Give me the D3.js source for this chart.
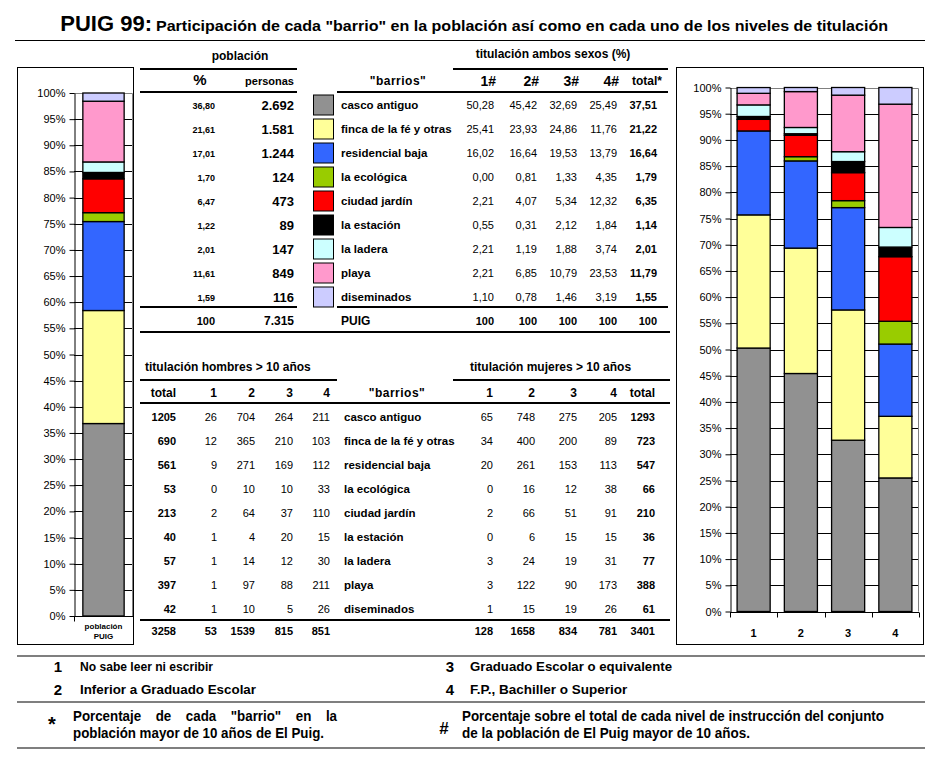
<!DOCTYPE html>
<html><head><meta charset="utf-8">
<script src="https://cdn.jsdelivr.net/npm/d3@7"></script>
<style>
body{margin:0;background:#fff}
svg{display:block}
text{font-family:"Liberation Sans",Arial,Helvetica,sans-serif;fill:#000}
</style></head><body>
<script>
// ---------------- DATA ----------------
const barrios = ["casco antiguo","finca de la fé y otras","residencial baja","la ecológica","ciudad jardín","la estación","la ladera","playa","diseminados"];
const colors  = ["#919191","#ffff99","#3366ff","#99cc00","#ff0000","#000000","#ccffff","#ff99cc","#ccccff"];
const popPct   = [36.80,21.61,17.01,1.70,6.47,1.22,2.01,11.61,1.59];
const personas = [2692,1581,1244,124,473,89,147,849,116];
const popTotal = [100,7315];
const levels   = ["1","2","3","4"];
const tit1 = [50.28,25.41,16.02,0.00,2.21,0.55,2.21,2.21,1.10];
const tit2 = [45.42,23.93,16.64,0.81,4.07,0.31,1.19,6.85,0.78];
const tit3 = [32.69,24.86,19.53,1.33,5.34,2.12,1.88,10.79,1.46];
const tit4 = [25.49,11.76,13.79,4.35,12.32,1.84,3.74,23.53,3.19];
const titTotal = [37.51,21.22,16.64,1.79,6.35,1.14,2.01,11.79,1.55];
const menTotal = [1205,690,561,53,213,40,57,397,42];
const men1 = [26,12,9,0,2,1,1,1,1];
const men2 = [704,365,271,10,64,4,14,97,10];
const men3 = [264,210,169,10,37,20,12,88,5];
const men4 = [211,103,112,33,110,15,30,211,26];
const menSums = [3258,53,1539,815,851];
const wom1 = [65,34,20,0,2,0,3,3,1];
const wom2 = [748,400,261,16,66,6,24,122,15];
const wom3 = [275,200,153,12,51,15,19,90,19];
const wom4 = [205,89,113,38,91,15,31,173,26];
const womTotal = [1293,723,547,66,210,36,77,388,61];
const womSums = [128,1658,834,781,3401];
const yTicks = d3.range(0,101,5);
const legendLevels = [["1","No sabe leer ni escribir"],["2","Inferior a Graduado Escolar"],["3","Graduado Escolar o equivalente"],["4","F.P., Bachiller o Superior"]];

// ---------------- HELPERS ----------------
const svg = d3.select("body").append("svg").attr("width",942).attr("height",772);
svg.append("rect").attr("width",942).attr("height",772).attr("fill","#fff");
const dec = d=>d3.format(".2f")(d).replace(".",",");
const thou = d=>d3.format(",")(d).replace(/,/g,".");
function T(x,y,s,o={}){
  const t=svg.append("text").attr("x",x).attr("y",y).text(s)
    .attr("font-size",o.size||11).attr("font-weight",o.weight||"normal")
    .attr("text-anchor",o.anchor||"start");
  if(o.len) t.attr("textLength",o.len).attr("lengthAdjust",o.adj||"spacingAndGlyphs");
  if(o.ls) t.attr("letter-spacing",o.ls);
  return t;
}
function fit(x,y,s,width,size){
  const t=T(x,y,s,{size:size,weight:"bold"});
  const w=t.node().getComputedTextLength();
  if(w>width) t.attr("textLength",width).attr("lengthAdjust","spacingAndGlyphs");
  return Math.max(1,w/width);
}
function justify(x,y,s,width,size,factor){
  const words=s.split(" ");
  const nodes=words.map(w=>T(0,y,w,{size:size,weight:"bold"}));
  const ws=nodes.map(n=>n.node().getComputedTextLength()/factor);
  const gap=(width-d3.sum(ws))/(words.length-1);
  let cx=x;
  nodes.forEach((n,i)=>{n.attr("x",cx).attr("textLength",ws[i]).attr("lengthAdjust","spacingAndGlyphs"); cx+=ws[i]+gap;});
}
function L(x1,y1,x2,y2,w=1,c="#000"){
  svg.append("line").attr("x1",x1).attr("y1",y1).attr("x2",x2).attr("y2",y2)
    .attr("stroke",c).attr("stroke-width",w);
}

// ---------------- TITLE ----------------
T(152,31,"PUIG 99:",{size:22,weight:"bold",anchor:"end"});
T(156,31,"Participación de cada \"barrio\" en la población  así como en cada uno  de los niveles de titulación",{size:15.5,weight:"bold",len:732});
L(15,40.5,925,40.5,1.2);

// ---------------- STACKED CHARTS ----------------
function stackChart(cfg){
  const {cats,series,x0,x1,y0,y1,labelFn} = cfg;
  const x = d3.scaleBand().domain(cats).range([x0,x1]).paddingInner(0.3).paddingOuter(0.15);
  const y = d3.scaleLinear().domain([0,100]).range([y0,y1]);
  const g = svg.append("g");
  g.selectAll("line.grid").data(yTicks.filter(v=>v>0&&v<100)).join("line")
    .attr("x1",x0).attr("x2",x1).attr("y1",d=>Math.round(y(d))+0.5).attr("y2",d=>Math.round(y(d))+0.5)
    .attr("stroke","#000").attr("stroke-width",1);
  g.append("path").attr("d",`M${x0},${Math.round(y1)+0.5}H${x1-0.5}V${y0}`).attr("fill","none").attr("stroke","#808080");
  const data = cats.map((c,ci)=>{const o={cat:c}; barrios.forEach((b,bi)=>o[b]=series[ci][bi]); return o;});
  const stacked = d3.stack().keys(barrios)(data);
  g.selectAll("g.s").data(stacked).join("g").attr("fill",(d,i)=>colors[i])
    .selectAll("rect").data(d=>d).join("rect")
    .attr("x",d=>x(d.data.cat)).attr("width",x.bandwidth())
    .attr("y",d=>y(Math.min(d[1],100))).attr("height",d=>Math.max(0,y(d[0])-y(Math.min(d[1],100))))
    .attr("stroke","#000").attr("stroke-width",1.3);
  const ya = g.append("g").attr("transform",`translate(${x0+0.5},0)`)
    .call(d3.axisLeft(y).tickValues(yTicks).tickFormat(d=>d+"%").tickSize(5).tickSizeOuter(0));
  ya.select(".domain").attr("stroke","#000");
  ya.selectAll(".tick text").attr("font-size",11).attr("font-family","'Liberation Sans',Arial,sans-serif").attr("dx",-1);
  const xa = g.append("g").attr("transform",`translate(0,${Math.round(y0)+0.5})`);
  xa.append("line").attr("x1",x0).attr("x2",x1).attr("stroke","#000");
  const edges = cats.map(c=>x(c)-x.step()*0.15).concat([x1]);
  xa.selectAll("line.tk").data(edges).join("line").attr("x1",d=>Math.round(d)+0.5).attr("x2",d=>Math.round(d)+0.5).attr("y1",0).attr("y2",5).attr("stroke","#000");
  labelFn(x);
}

svg.append("rect").attr("x",17.5).attr("y",67.5).attr("width",116).attr("height",577).attr("fill","#fff").attr("stroke","#000");
stackChart({cats:["población PUIG"],series:[popPct],x0:74,x1:133,y0:616,y1:93,
  labelFn:x=>{
    const cx=x("población PUIG")+x.bandwidth()/2;
    T(cx,629,"población",{size:8,weight:"bold",anchor:"middle"});
    T(cx,639,"PUIG",{size:8,weight:"bold",anchor:"middle"});
  }});

svg.append("rect").attr("x",676.5).attr("y",67.5).attr("width",247).attr("height",577).attr("fill","#fff").attr("stroke","#000");
stackChart({cats:levels,series:[tit1,tit2,tit3,tit4],x0:730,x1:919,y0:611.5,y1:87.5,
  labelFn:x=>{ levels.forEach(l=>T(x(l)+x.bandwidth()/2,637,l,{size:11,weight:"bold",anchor:"middle"})); }});

// ---------------- TOP TABLE ----------------
T(240,60,"población",{size:12,weight:"bold",anchor:"middle"});
T(553,58,"titulación ambos sexos (%)",{size:12,weight:"bold",anchor:"middle"});
L(140,69,297,69,2); L(453,69,668,69,2);
const hy=85;
T(200,hy,"%",{size:15,weight:"bold",anchor:"middle"});
T(294,hy,"personas",{size:11,weight:"bold",anchor:"end"});
T(398,hy,"\"barrios\"",{size:12,weight:"bold",anchor:"middle",ls:0.5});
const tCols=[494,537,577,617];
["1#","2#","3#","4#"].forEach((h,i)=>T(tCols[i]+2,hy+1,h,{size:14,weight:"bold",anchor:"end"}));
T(662,hy,"total*",{size:12,weight:"bold",anchor:"end"});
L(140,92,297,92,2); L(337,92,668,92,2);
const titCols=[tit1,tit2,tit3,tit4];
barrios.forEach((b,i)=>{
  const cy=105+24*i, by=cy+4;
  T(215,by,dec(popPct[i]),{size:9,weight:"bold",anchor:"end"});
  T(294,by+1,thou(personas[i]),{size:13,weight:"bold",anchor:"end"});
  svg.append("rect").attr("x",313.5).attr("y",cy-10).attr("width",20).attr("height",20).attr("fill",colors[i]).attr("stroke","#000");
  T(341,by,b,{size:11.5,weight:"bold"});
  titCols.forEach((col,j)=>T(tCols[j],by,dec(col[i]),{size:11,anchor:"end"}));
  T(657,by,dec(titTotal[i]),{size:11,weight:"bold",anchor:"end"});
});
L(140,307,297,307,2); L(337,307,668,307,2);
T(215,325,String(popTotal[0]),{size:11,weight:"bold",anchor:"end"});
T(294,325,thou(popTotal[1]),{size:12,weight:"bold",anchor:"end"});
T(341,325,"PUIG",{size:12,weight:"bold"});
tCols.forEach(c=>T(c,325,"100",{size:11,weight:"bold",anchor:"end"}));
T(657,325,"100",{size:11,weight:"bold",anchor:"end"});
L(140,332,670,332,2);

// ---------------- BOTTOM TABLE ----------------
T(145,371,"titulación hombres > 10 años",{size:12,weight:"bold"});
T(470,371,"titulación mujeres > 10 años",{size:12,weight:"bold"});
L(140,380,337,380,2); L(453,380,670,380,2);
const mCols=[176,217,255,293,330], wCols=[493,535,577,617,655];
const bh=397;
["total","1","2","3","4"].forEach((h,i)=>T(mCols[i],bh,h,{size:12,weight:"bold",anchor:"end"}));
T(397,bh,"\"barrios\"",{size:12,weight:"bold",anchor:"middle",ls:0.5});
["1","2","3","4","total"].forEach((h,i)=>T(wCols[i],bh,h,{size:12,weight:"bold",anchor:"end"}));
L(140,403,670,403,2);
const menCols=[men1,men2,men3,men4], womCols=[wom1,wom2,wom3,wom4];
barrios.forEach((b,i)=>{
  const by=417+24*i+4;
  T(mCols[0],by,menTotal[i],{size:11,weight:"bold",anchor:"end"});
  menCols.forEach((c,j)=>T(mCols[j+1],by,c[i],{size:11,anchor:"end"}));
  T(344,by,b,{size:11.5,weight:"bold"});
  womCols.forEach((c,j)=>T(wCols[j],by,c[i],{size:11,anchor:"end"}));
  T(wCols[4],by,womTotal[i],{size:11,weight:"bold",anchor:"end"});
});
L(140,620,670,620,2);
menSums.forEach((v,i)=>T(mCols[i],635,v,{size:11,weight:"bold",anchor:"end"}));
womSums.forEach((v,i)=>T(wCols[i],635,v,{size:11,weight:"bold",anchor:"end"}));

// ---------------- FOOTER ----------------
L(17,656,925,656,1.2);
const legW=[133,176,202,160];
legendLevels.forEach((d,i)=>{
  const col=i<2?0:1, row=i%2;
  const nx=col?450:58, tx=col?470:80, y=672+23*row;
  T(nx,y,d[0],{size:15,weight:"bold",anchor:"middle"});
  fit(tx,y-1,d[1],legW[i],13.5);
});
L(17,702,925,702,1.2);
T(52,731,"*",{size:20,weight:"bold",anchor:"middle"});
const f2=fit(73,738,"población mayor de 10 años de El Puig.",251,14);
justify(73,721,"Porcentaje de cada \"barrio\" en la",264,14,f2);
T(444,734,"#",{size:17,weight:"bold",anchor:"middle"});
fit(462,721,"Porcentaje sobre el total de cada nivel de instrucción del conjunto",422,14);
fit(462,738,"de la población de El Puig mayor de 10 años.",288,14);
L(17,748,925,748,1.2);
</script>
</body></html>
